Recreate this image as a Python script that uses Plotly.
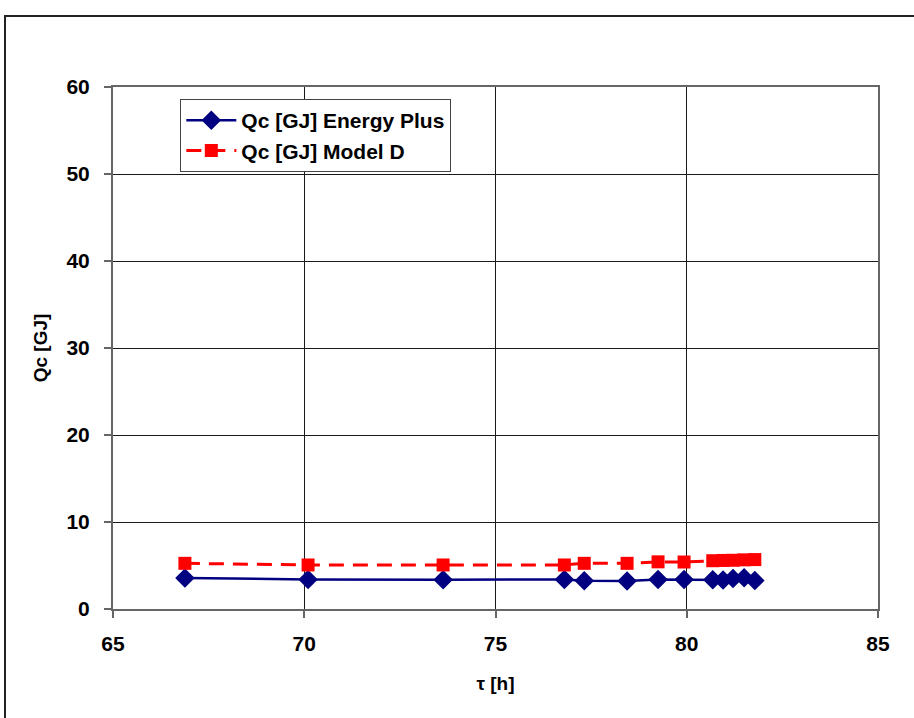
import plotly.graph_objects as go

tau_ep = [66.88, 70.10, 73.63, 76.80, 77.32, 78.44, 79.25, 79.93, 80.68, 80.95, 81.21, 81.50, 81.78]
qc_ep = [3.56, 3.40, 3.35, 3.40, 3.25, 3.22, 3.40, 3.40, 3.35, 3.32, 3.50, 3.60, 3.27]

tau_md = [66.88, 70.10, 73.63, 76.80, 77.32, 78.44, 79.25, 79.93, 80.68, 80.95, 81.21, 81.50, 81.78]
qc_md = [5.25, 5.06, 5.06, 5.06, 5.25, 5.25, 5.42, 5.40, 5.55, 5.58, 5.60, 5.65, 5.68]

x_ticks = [65, 70, 75, 80, 85]
y_ticks = [0, 10, 20, 30, 40, 50, 60]

FONT = "Liberation Sans"

fig = go.Figure()
fig.add_trace(go.Scatter(
    x=tau_ep, y=qc_ep, mode="lines+markers", name="<b>Qc [GJ] Energy Plus</b>",
    line=dict(color="#000080", width=2.5),
    marker=dict(symbol="diamond", size=15, color="#000080"),
))
fig.add_trace(go.Scatter(
    x=tau_md, y=qc_md, mode="lines+markers", name="<b>Qc [GJ] Model D</b>",
    line=dict(color="#FF0000", width=3, dash="15px,9px"),
    marker=dict(symbol="square", size=13, color="#FF0000"),
))

fig.update_layout(
    width=914, height=718,
    margin=dict(l=113, r=36, t=87, b=109),
    paper_bgcolor="white", plot_bgcolor="white",
    font=dict(family=FONT, size=20, color="black"),
    showlegend=True,
    legend=dict(
        x=0.088, y=0.977, xanchor="left", yanchor="top",
        bordercolor="#444444", borderwidth=1, bgcolor="white",
        font=dict(family=FONT, size=21, color="black"),
        tracegroupgap=0, itemwidth=50,
    ),
    xaxis=dict(
        range=[65, 85], tickvals=x_ticks, ticktext=[f"<b>{v}</b>" for v in x_ticks],
        tickfont=dict(family=FONT, size=21),
        showgrid=True, gridcolor="#1a1a1a", gridwidth=1,
        showline=True, linecolor="#666666", linewidth=2, mirror=True,
        ticks="outside", ticklen=7, tickcolor="#666666", tickwidth=1.5,
        ticklabelstandoff=8,
        zeroline=False,
        title=dict(text="<b>τ [h]</b>", font=dict(family=FONT, size=19), standoff=22),
    ),
    yaxis=dict(
        range=[0, 60], tickvals=y_ticks, ticktext=[f"<b>{v}</b>" for v in y_ticks],
        tickfont=dict(family=FONT, size=21),
        showgrid=True, gridcolor="#1a1a1a", gridwidth=1,
        showline=True, linecolor="#666666", linewidth=2, mirror=True,
        ticks="outside", ticklen=7, tickcolor="#666666", tickwidth=1.5,
        ticklabelstandoff=10,
        zeroline=False,
        title=dict(text="<b>Qc [GJ]</b>", font=dict(family=FONT, size=19), standoff=14),
    ),
    shapes=[dict(
        type="rect", xref="paper", yref="paper",
        x0=(5 - 113) / 765, x1=1.2, y0=-0.4, y1=(609 - 16) / 522,
        line=dict(color="#222222", width=2), fillcolor="rgba(0,0,0,0)", layer="above",
    )],
)

fig.write_html("out.html")
